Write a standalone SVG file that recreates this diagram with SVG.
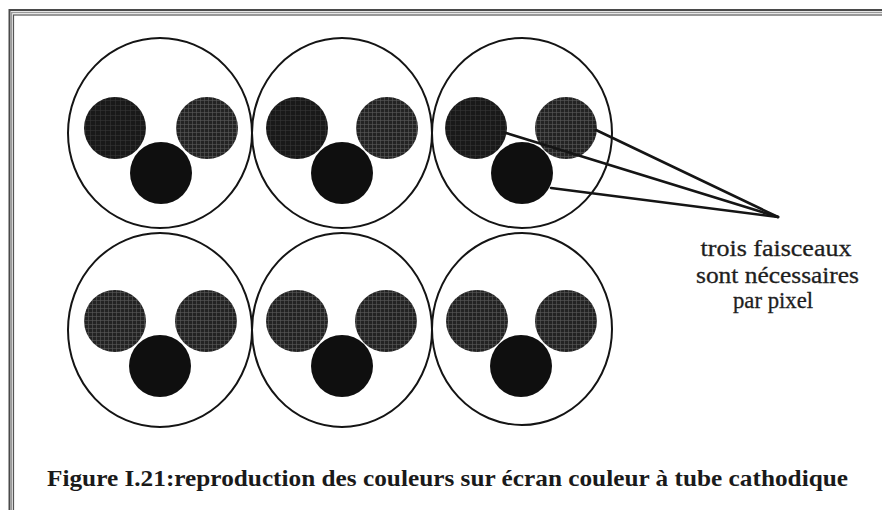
<svg xmlns="http://www.w3.org/2000/svg" width="882" height="510" viewBox="0 0 882 510">
  <defs>
    <pattern id="gridA" width="4" height="4" patternUnits="userSpaceOnUse">
      <rect width="4" height="4" fill="#232323"/>
      <path d="M0 0.5H4M0.5 0V4" stroke="#5a5a5a" stroke-width="0.6"/>
    </pattern>
    <pattern id="gridB" width="5" height="5" patternUnits="userSpaceOnUse">
      <rect width="5" height="5" fill="#191919"/>
      <path d="M0 0.5H5M0.5 0V5" stroke="#363636" stroke-width="0.6"/>
    </pattern>
  </defs>
  <style>
    .pix { fill: #ffffff; stroke: #141414; stroke-width: 2; }
    .ga { fill: url(#gridA); }
    .gb { fill: url(#gridB); }
    .blk { fill: #0f0f0f; }
    .conn { stroke: #151515; stroke-width: 2.6; fill: none; stroke-linecap: round; }
    .lbl { font-family: "Liberation Serif", "Times New Roman", serif; font-size: 23px; fill: #1e1e1e; stroke: #1e1e1e; stroke-width: 0.3; text-anchor: middle; }
    .cap { font-family: "Liberation Serif", "Times New Roman", serif; font-size: 23px; font-weight: bold; fill: #1a1a1a; }
  </style>
  <rect width="882" height="510" fill="#ffffff"/>
  <g id="frame" fill="none">
    <rect x="9.5" y="10" width="900" height="600" stroke="#4a4a4a" stroke-width="2"/>
    <rect x="11.5" y="12.5" width="900" height="600" stroke="#9a9a9a" stroke-width="1.5"/>
    <rect x="13.5" y="15" width="900" height="600" stroke="#555555" stroke-width="1.2"/>
  </g>

  <g id="pixel-r1c1">
    <ellipse class="pix" cx="160" cy="133" rx="92" ry="95"/>
    <circle class="gb" cx="115" cy="128" r="31"/>
    <circle class="ga" cx="207" cy="128" r="31"/>
    <circle class="blk" cx="161" cy="173" r="31"/>
  </g>
  <g id="pixel-r1c2">
    <ellipse class="pix" cx="342" cy="133" rx="90" ry="95"/>
    <circle class="gb" cx="297" cy="128" r="31"/>
    <circle class="ga" cx="387" cy="128" r="31"/>
    <circle class="blk" cx="342" cy="173" r="31"/>
  </g>
  <g id="pixel-r1c3">
    <ellipse class="pix" cx="522" cy="133" rx="90" ry="95"/>
    <circle class="gb" cx="476" cy="128" r="31"/>
    <circle class="ga" cx="566" cy="128" r="31"/>
    <circle class="blk" cx="522" cy="173" r="31"/>
  </g>
  <g id="pixel-r2c1">
    <ellipse class="pix" cx="160" cy="330" rx="92" ry="97"/>
    <circle class="ga" cx="115" cy="321" r="31"/>
    <circle class="ga" cx="206" cy="321" r="31"/>
    <circle class="blk" cx="160" cy="366" r="31"/>
  </g>
  <g id="pixel-r2c2">
    <ellipse class="pix" cx="342" cy="330" rx="90" ry="97"/>
    <circle class="ga" cx="297" cy="321" r="31"/>
    <circle class="ga" cx="386" cy="321" r="31"/>
    <circle class="blk" cx="342" cy="366" r="31"/>
  </g>
  <g id="pixel-r2c3">
    <ellipse class="pix" cx="522" cy="329" rx="90" ry="96"/>
    <circle class="ga" cx="477" cy="321" r="31"/>
    <circle class="ga" cx="566" cy="321" r="31"/>
    <circle class="blk" cx="521" cy="366" r="31"/>
  </g>

  <g id="connectors">
    <line class="conn" x1="506" y1="133" x2="778" y2="217"/>
    <line class="conn" x1="596" y1="130" x2="778" y2="217"/>
    <line class="conn" x1="551" y1="188" x2="778" y2="217"/>
  </g>

  <g id="label">
    <text class="lbl" x="776" y="256" textLength="151" lengthAdjust="spacingAndGlyphs">trois faisceaux</text>
    <text class="lbl" x="777.5" y="283" textLength="163" lengthAdjust="spacingAndGlyphs">sont nécessaires</text>
    <text class="lbl" x="773" y="308" textLength="80" lengthAdjust="spacingAndGlyphs">par pixel</text>
  </g>

  <g id="caption">
    <text class="cap" x="47" y="486" textLength="801" lengthAdjust="spacingAndGlyphs">Figure I.21:reproduction des couleurs sur écran couleur à tube cathodique</text>
  </g>
</svg>
